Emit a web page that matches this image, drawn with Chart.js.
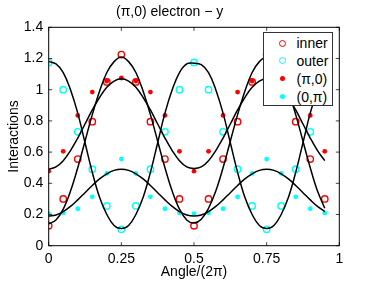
<!DOCTYPE html>
<html>
<head>
<meta charset="utf-8">
<script src="https://cdn.jsdelivr.net/npm/chart.js@4"></script>
<style>
  body { margin: 0; background: #fff; }
  #wrap { position: relative; width: 374px; height: 281px; }
  #legend {
    position: absolute; left: 262.5px; top: 31.5px; width: 70px; height: 74px;
    background: #fff; border: 1px solid #333; box-sizing: border-box;
    font-family: 'Liberation Sans', Arial, sans-serif; font-size: 14px; color: #000;
  }
  .row { position: absolute; left: 0; height: 18px; line-height: 18px; width: 100%; }
  .row span.txt { position: absolute; left: 33px; }
  .mk { position: absolute; border-radius: 50%; box-sizing: border-box; }
  .open { width: 7px; height: 7px; left: 15.5px; top: 5.5px; border: 1.4px solid; }
  .dot { width: 5px; height: 5px; left: 16.5px; top: 6.5px; }
</style>
</head>
<body>
<div id="wrap">
  <canvas id="chart" width="374" height="281"></canvas>
  <div id="legend">
    <div class="row" style="top:1.5px"><span class="mk open" style="border-color:#ff0000"></span><span class="txt">inner</span></div>
    <div class="row" style="top:19px"><span class="mk open" style="border-color:#00ffff"></span><span class="txt">outer</span></div>
    <div class="row" style="top:37px"><span class="mk dot" style="background:#ff0000"></span><span class="txt">(π,0)</span></div>
    <div class="row" style="top:55px"><span class="mk dot" style="background:#00ffff"></span><span class="txt">(0,π)</span></div>
  </div>
</div>
<script>
// measured points, x = angle/(2pi)
const angleX = [0, 0.05, 0.1, 0.15, 0.2, 0.25, 0.3, 0.35, 0.4, 0.45, 0.5, 0.55, 0.6, 0.65, 0.7, 0.75, 0.8, 0.85, 0.9, 0.95];
const innerVals = [0.128, 0.30, 0.555, 0.795, 1.05, 1.225, 1.05, 0.795, 0.555, 0.30, 0.128, 0.30, 0.555, 0.795, 1.05, 1.225, 1.05, 0.795, 0.555, 0.30];
const outerVals = [1.175, 1.0, 0.73, 0.49, 0.255, 0.105, 0.255, 0.49, 0.73, 1.0, 1.175, 1.0, 0.73, 0.49, 0.255, 0.105, 0.255, 0.49, 0.73, 1.0];
const pi0Vals = [0.478, 0.605, 0.835, 0.985, 1.055, 1.075, 1.055, 0.985, 0.835, 0.605, 0.478, 0.605, 0.835, 0.985, 1.055, 1.075, 1.055, 0.985, 0.835, 0.605];
const zeroPiVals = [0.205, 0.21, 0.237, 0.313, 0.463, 0.555, 0.463, 0.313, 0.237, 0.21, 0.205, 0.21, 0.237, 0.313, 0.463, 0.555, 0.463, 0.313, 0.237, 0.21];

// fitted curves
const curveX = [0, 0.025, 0.05, 0.075, 0.1, 0.125, 0.15, 0.175, 0.2, 0.225, 0.25, 0.275, 0.3, 0.325, 0.35, 0.375, 0.4, 0.425, 0.45, 0.475,
  0.5, 0.525, 0.55, 0.575, 0.6, 0.625, 0.65, 0.675, 0.7, 0.725, 0.75, 0.775, 0.8, 0.825, 0.85, 0.875, 0.9, 0.925, 0.95];
const innerFit = [0.14, 0.165, 0.235, 0.35, 0.50, 0.67, 0.84, 0.99, 1.11, 1.18, 1.21, 1.18, 1.11, 0.99, 0.84, 0.67, 0.50, 0.35, 0.235, 0.165,
  0.145, 0.17, 0.24, 0.35, 0.50, 0.67, 0.84, 0.99, 1.11, 1.18, 1.21, 1.18, 1.11, 0.99, 0.84, 0.67, 0.50, 0.35, 0.24];
const outerFit = [1.18, 1.165, 1.11, 1.00, 0.85, 0.66, 0.47, 0.31, 0.20, 0.13, 0.11, 0.13, 0.20, 0.31, 0.47, 0.66, 0.85, 1.00, 1.11, 1.165,
  1.17, 1.16, 1.11, 1.00, 0.85, 0.66, 0.47, 0.31, 0.20, 0.13, 0.11, 0.13, 0.20, 0.31, 0.47, 0.66, 0.85, 1.00, 1.11];
const pi0Fit = [0.49, 0.505, 0.545, 0.61, 0.69, 0.78, 0.87, 0.95, 1.015, 1.055, 1.07, 1.055, 1.015, 0.95, 0.87, 0.78, 0.69, 0.61, 0.545, 0.505,
  0.495, 0.505, 0.545, 0.61, 0.69, 0.78, 0.87, 0.95, 1.015, 1.055, 1.07, 1.055, 1.015, 0.95, 0.87, 0.78, 0.69, 0.61, 0.545];
const zeroPiFit = [0.19, 0.197, 0.219, 0.252, 0.294, 0.34, 0.386, 0.428, 0.461, 0.483, 0.49, 0.483, 0.461, 0.428, 0.386, 0.34, 0.294, 0.252, 0.219, 0.197,
  0.19, 0.197, 0.219, 0.252, 0.294, 0.34, 0.386, 0.428, 0.461, 0.483, 0.49, 0.483, 0.461, 0.428, 0.386, 0.34, 0.294, 0.252, 0.219];

const xTicks = [0, 0.25, 0.5, 0.75, 1];
const yTicks = [0, 0.2, 0.4, 0.6, 0.8, 1, 1.2, 1.4];

const FONT = 'Liberation Sans, Arial, sans-serif';
Chart.defaults.font.family = FONT;
Chart.defaults.font.size = 14;
Chart.defaults.color = '#000';

const pts = (xs, ys) => xs.map((x, i) => ({ x: x, y: ys[i] }));

function openSet(vals, color, order) {
  return {
    data: pts(angleX, vals), showLine: false, order: order,
    pointRadius: 3.2, pointBorderWidth: 1.4, pointBorderColor: color,
    pointBackgroundColor: 'rgba(0,0,0,0)', pointHoverRadius: 3.2
  };
}
function dotSet(vals, color, order) {
  return {
    data: pts(angleX, vals), showLine: false, order: order,
    pointRadius: 2.4, pointBorderWidth: 0, pointBackgroundColor: color, pointHoverRadius: 2.4
  };
}
function fitSet(vals) {
  return {
    data: pts(curveX, vals), showLine: true, order: 1,
    borderColor: '#000', borderWidth: 1.5, pointRadius: 0, tension: 0.4, fill: false
  };
}

// frame and inward ticks on all four sides
const framePlugin = {
  id: 'frame',
  afterDraw(chart) {
    const { ctx, chartArea: a, scales: { x, y } } = chart;
    ctx.save();
    ctx.strokeStyle = '#444';
    ctx.lineWidth = 1;
    ctx.beginPath();
    xTicks.forEach(v => {
      const px = x.getPixelForValue(v);
      ctx.moveTo(px, a.bottom); ctx.lineTo(px, a.bottom - 3.5);
      ctx.moveTo(px, a.top); ctx.lineTo(px, a.top + 3.5);
    });
    yTicks.forEach(v => {
      const py = y.getPixelForValue(v);
      ctx.moveTo(a.left, py); ctx.lineTo(a.left + 3.5, py);
      ctx.moveTo(a.right, py); ctx.lineTo(a.right - 3.5, py);
    });
    ctx.stroke();
    ctx.strokeStyle = '#000';
    ctx.strokeRect(a.left, a.top, a.right - a.left, a.bottom - a.top);
    ctx.restore();
  }
};

new Chart(document.getElementById('chart'), {
  type: 'scatter',
  data: {
    datasets: [
      openSet(innerVals, '#ff0000', 6),
      openSet(outerVals, '#00ffff', 5),
      dotSet(pi0Vals, '#ff0000', 4),
      dotSet(zeroPiVals, '#00ffff', 3),
      fitSet(innerFit),
      fitSet(outerFit),
      fitSet(pi0Fit),
      fitSet(zeroPiFit)
    ]
  },
  options: {
    responsive: false,
    animation: false,
    events: [],
    layout: { padding: { left: 0, right: 34.7, top: 0, bottom: 0 } },
    plugins: {
      legend: { display: false },
      tooltip: { enabled: false },
      title: {
        display: true, text: '(π,0) electron − y',
        font: { size: 14, weight: 'normal' }, color: '#000',
        padding: { top: 4, bottom: 6.5 }
      }
    },
    scales: {
      x: {
        type: 'linear', min: 0, max: 1,
        afterFit: s => { s.height = 35.3; },
        afterBuildTicks: s => { s.ticks = xTicks.map(v => ({ value: v })); },
        grid: { display: false, drawTicks: false },
        border: { display: false },
        ticks: { padding: 5, font: { size: 14 }, color: '#000', callback: v => String(v) },
        title: { display: true, text: 'Angle/(2π)', font: { size: 14 }, color: '#000', padding: { top: 0, bottom: 0.9 } }
      },
      y: {
        type: 'linear', min: 0, max: 1.4,
        afterFit: s => { s.width = 48.7; },
        afterBuildTicks: s => { s.ticks = yTicks.map(v => ({ value: v })); },
        grid: { display: false, drawTicks: false },
        border: { display: false },
        ticks: { padding: 5.5, font: { size: 14 }, color: '#000', callback: v => String(v) },
        title: { display: true, text: 'Interactions', font: { size: 14 }, color: '#000', padding: { top: 5.6, bottom: 0 } }
      }
    }
  },
  plugins: [framePlugin]
});
</script>
</body>
</html>
